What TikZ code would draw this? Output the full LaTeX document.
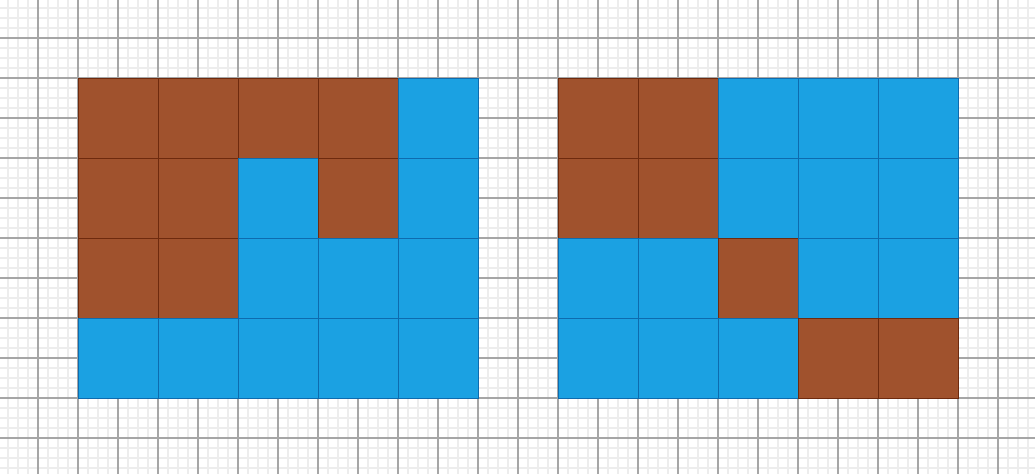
\documentclass[tikz,border=0pt]{standalone}
\usepackage{tikz}
\usetikzlibrary{positioning}

\definecolor{brickfill}{HTML}{A0522D}
\definecolor{brickline}{HTML}{6E2A0E}
\definecolor{skyfill}{HTML}{1BA1E2}
\definecolor{skyline}{HTML}{0E6BAE}

\tikzset{
  brick/.style={fill=brickfill, draw=brickline, line width=0.7pt},
  sky/.style={fill=skyfill, draw=skyline, line width=0.7pt},
  finegrid/.style={draw=black!7, line width=1.6pt},
  coarsegrid/.style={draw=black!35, line width=0.75pt}
}

\begin{document}
\begin{tikzpicture}
        \useasboundingbox (0.05,-11.875) rectangle (25.925,-0.05);
        \fill[white] (0.05,-11.875) rectangle (25.925,-0.05);

        % background paper
        \draw[finegrid] (0,-12) grid[step=0.25] (26,0);
        \draw[coarsegrid] (0,-12) grid[step=1] (26,0);

        % left board
        \foreach \r/\rowcells in {0/{brick,brick,brick,brick,sky},
                                  1/{brick,brick,sky,brick,sky},
                                  2/{brick,brick,sky,sky,sky},
                                  3/{sky,sky,sky,sky,sky}}
          \foreach \c [count=\i from 0] in \rowcells
            \draw[\c] (2+2*\i,-2-2*\r) rectangle ++(2,-2);

        % right board
        \foreach \r/\rowcells in {0/{brick,brick,sky,sky,sky},
                                  1/{brick,brick,sky,sky,sky},
                                  2/{sky,sky,brick,sky,sky},
                                  3/{sky,sky,sky,brick,brick}}
          \foreach \c [count=\i from 0] in \rowcells
            \draw[\c] (14+2*\i,-2-2*\r) rectangle ++(2,-2);
    \end{tikzpicture}
\end{document}
